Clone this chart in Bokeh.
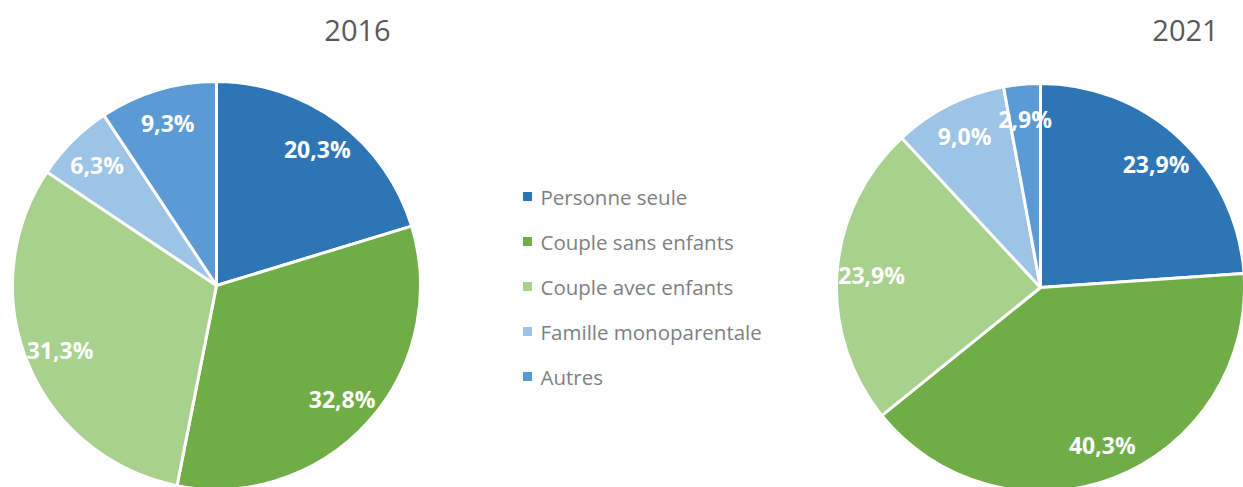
import numpy as np
from bokeh.plotting import figure
from bokeh.models import Range1d, ColumnDataSource
from bokeh.core.properties import value
from bokeh.embed import file_html
from bokeh.resources import INLINE

categories = ["Personne seule", "Couple sans enfants", "Couple avec enfants",
              "Famille monoparentale", "Autres"]
colors = ["#2E75B6", "#70AD47", "#A9D18E", "#9DC3E6", "#5B9BD5"]
years = ["2016", "2021"]
values_2016 = [20.3, 32.8, 31.3, 6.3, 9.3]
values_2021 = [23.9, 40.3, 23.9, 9.0, 2.9]

W, H = 1243, 487
FONT = "Open Sans"

p = figure(width=W, height=H, output_backend="svg", toolbar_location=None,
           x_range=Range1d(0, W), y_range=Range1d(0, H), min_border=0)
p.axis.visible = False
p.grid.visible = False
p.outline_line_color = None
p.background_fill_color = "white"


def sy(y):
    # convert a top-down pixel position to the upward data axis
    return H - y


R = 204
pies = [
    (years[0], values_2016, 216, 285, 357),
    (years[1], values_2021, 1040, 287, 1185),
]

for year, vals, cx, cy, tx in pies:
    v = np.array(vals) / 100.0
    cum = np.concatenate([[0], np.cumsum(v)])
    start = np.pi / 2 - 2 * np.pi * cum[:-1]
    end = np.pi / 2 - 2 * np.pi * cum[1:]
    mid = (start + end) / 2
    src = ColumnDataSource(dict(
        x=[cx] * len(vals), y=[sy(cy)] * len(vals), start=start, end=end,
        color=colors,
        lx=cx + 0.83 * R * np.cos(mid), ly=sy(cy) + 0.83 * R * np.sin(mid),
        label=[f"{x:.1f}".replace(".", ",") + "%" for x in vals],
    ))
    p.wedge(x="x", y="y", radius=R, start_angle="start", end_angle="end",
            direction="clock", fill_color="color", line_color="white",
            line_width=3, source=src)
    p.text(x="lx", y="ly", text="label", source=src, text_color="white",
           text_font=value(FONT), text_font_style="bold",
           text_font_size="23px", text_align="center", text_baseline="middle")
    p.text(x=[tx], y=[sy(30)], text=[year], text_color="#595959",
           text_font=value(FONT), text_font_size="29px",
           text_align="center", text_baseline="middle")

# legend
ly = [sy(196 + 45 * i) for i in range(len(categories))]
p.scatter(x=[527] * len(categories), y=ly, marker="square", size=9,
          fill_color=colors, line_color=None)
p.text(x=[540] * len(categories), y=ly, text=categories, text_color="#7F7F7F",
       text_font=value(FONT), text_font_size="20.5px",
       text_align="left", text_baseline="middle")

open("out.html", "w").write(file_html(p, INLINE))
